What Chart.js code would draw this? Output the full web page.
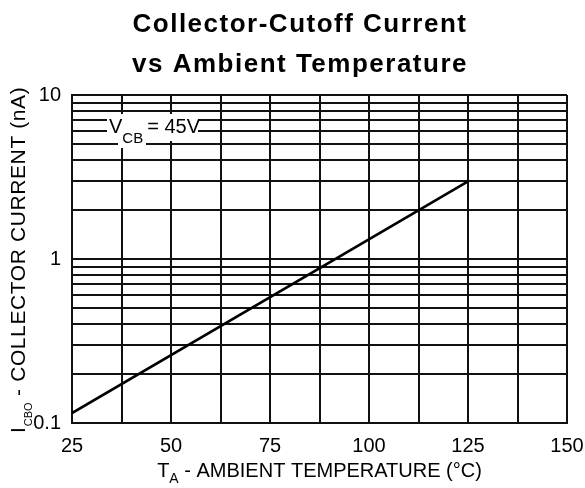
<!DOCTYPE html>
<html>
<head>
<meta charset="utf-8">
<script src="https://cdn.jsdelivr.net/npm/chart.js@4"></script>
<style>
  html, body { margin: 0; padding: 0; background: #fff; }
  #wrap { width: 585px; height: 488px; }
</style>
</head>
<body>
<div id="wrap"><canvas id="chart" width="585" height="488"></canvas></div>
<script>
// ---- data ----
const temps = [25, 125];            // T_A (°C)
const currents = [0.115, 2.97];     // I_CBO (nA)

const xGridValues = [25, 37.5, 50, 62.5, 75, 87.5, 100, 112.5, 125, 137.5, 150];
const xTickLabels = [25, 50, 75, 100, 125, 150];
const yGridValues = [0.1, 0.2, 0.3, 0.4, 0.5, 0.6, 0.7, 0.8, 0.9,
                     1, 2, 3, 4, 5, 6, 7, 8, 9, 10];
const yTickLabels = [0.1, 1, 10];

const titleLines = ["Collector-Cutoff Current", "vs Ambient Temperature"];

const FONT = "'Liberation Sans', Arial, sans-serif";

// title drawn by hand so letter spacing can match the datasheet look
const titlePlugin = {
  id: "bigTitle",
  afterDraw(chart) {
    const ctx = chart.ctx;
    ctx.save();
    ctx.fillStyle = "#000";
    ctx.font = "bold 26px " + FONT;
    ctx.letterSpacing = "1.5px";
    ctx.textAlign = "center";
    ctx.textBaseline = "alphabetic";
    ctx.fillText(titleLines[0], 300, 31.5);
    ctx.fillText(titleLines[1], 300, 71.5);
    ctx.restore();
  }
};

// axis titles with subscripts
const axisTitlePlugin = {
  id: "axisTitles",
  afterDraw(chart) {
    const ctx = chart.ctx;
    const area = chart.chartArea;
    ctx.save();
    ctx.fillStyle = "#000";
    ctx.textBaseline = "alphabetic";
    ctx.textAlign = "left";

    // x axis: T_A - AMBIENT TEMPERATURE (°C)
    const xMain = "20px " + FONT;
    const xSub = "14px " + FONT;
    const xRest = " - AMBIENT TEMPERATURE (°C)";
    ctx.font = xMain;
    const wT = ctx.measureText("T").width;
    const wRest = ctx.measureText(xRest).width;
    ctx.font = xSub;
    const wA = ctx.measureText("A").width;
    let x = (area.left + area.right) / 2 - (wT + wA + wRest) / 2;
    const yBase = 476.5;
    ctx.font = xMain;
    ctx.fillText("T", x, yBase);
    x += wT;
    ctx.font = xSub;
    ctx.fillText("A", x, yBase + 6);
    x += wA;
    ctx.font = xMain;
    ctx.fillText(xRest, x, yBase);

    // y axis: I_CBO - COLLECTOR CURRENT (nA), rotated
    ctx.translate(25, 0);
    ctx.rotate(-Math.PI / 2);
    const yMain = "21px " + FONT;
    const ySub = "11px " + FONT;
    const yRest = " - COLLECTOR CURRENT (nA)";
    let p = -433;
    ctx.font = yMain;
    ctx.fillText("I", p, 0);
    p += ctx.measureText("I").width;
    ctx.font = ySub;
    ctx.fillText("CBO", p + 1, 7);
    p += ctx.measureText("CBO").width + 1;
    ctx.font = yMain;
    ctx.letterSpacing = "0.6px";
    ctx.fillText(yRest, p, 0);
    ctx.restore();
  }
};

// V_CB = 45V note sitting on a white patch over the grid
const notePlugin = {
  id: "vcbNote",
  afterDatasetsDraw(chart) {
    const ctx = chart.ctx;
    const x0 = chart.chartArea.left + 37;
    const y0 = chart.chartArea.top + 38;
    ctx.save();
    ctx.fillStyle = "#fff";
    ctx.fillRect(x0 - 2, y0 - 19, 91, 27);
    ctx.fillRect(x0 + 9, y0 - 5, 28, 20);
    ctx.fillStyle = "#000";
    ctx.textBaseline = "alphabetic";
    ctx.font = "20px " + FONT;
    ctx.fillText("V", x0, y0);
    const wV = ctx.measureText("V").width;
    ctx.font = "15px " + FONT;
    ctx.fillText("CB", x0 + wV, y0 + 10);
    const wCB = ctx.measureText("CB").width;
    ctx.font = "20px " + FONT;
    ctx.fillText("= 45V", x0 + wV + wCB + 4, y0);
    ctx.restore();
  }
};

const ctx = document.getElementById("chart").getContext("2d");

new Chart(ctx, {
  type: "line",
  data: {
    datasets: [
      {
        data: temps.map((t, i) => ({ x: t, y: currents[i] })),
        borderColor: "#000",
        borderWidth: 2.6,
        pointRadius: 0,
        fill: false,
        tension: 0,
      },
    ],
  },
  options: {
    responsive: false,
    animation: false,
    events: [],
    layout: { padding: { top: 95, right: 18, bottom: 0, left: 0 } },
    plugins: {
      legend: { display: false },
      title: { display: false },
      tooltip: { enabled: false },
    },
    scales: {
      x: {
        type: "linear",
        min: 25,
        max: 150,
        afterBuildTicks(scale) {
          scale.ticks = xGridValues.map((v) => ({ value: v }));
        },
        afterFit(scale) {
          scale.height = 65;
          scale.paddingLeft = 0;
          scale.paddingRight = 0;
        },
        ticks: {
          autoSkip: false,
          maxRotation: 0,
          padding: 11,
          color: "#000",
          font: { family: FONT, size: 20 },
          callback: (v) => (xTickLabels.includes(v) ? String(v) : ""),
        },
        grid: { color: "#111", lineWidth: 2, drawTicks: false },
        border: { color: "#111", width: 2 },
      },
      y: {
        type: "logarithmic",
        min: 0.1,
        max: 10,
        afterBuildTicks(scale) {
          scale.ticks = yGridValues.map((v) => ({ value: v }));
        },
        afterFit(scale) {
          scale.width = 72;
          scale.paddingTop = 0;
          scale.paddingBottom = 0;
        },
        ticks: {
          autoSkip: false,
          padding: 11,
          color: "#000",
          font: { family: FONT, size: 20 },
          callback: (v) => (yTickLabels.includes(v) ? String(v) : ""),
        },
        grid: { color: "#111", lineWidth: 2, drawTicks: false },
        border: { color: "#111", width: 2 },
      },
    },
  },
  plugins: [titlePlugin, axisTitlePlugin, notePlugin],
});
</script>
</body>
</html>
